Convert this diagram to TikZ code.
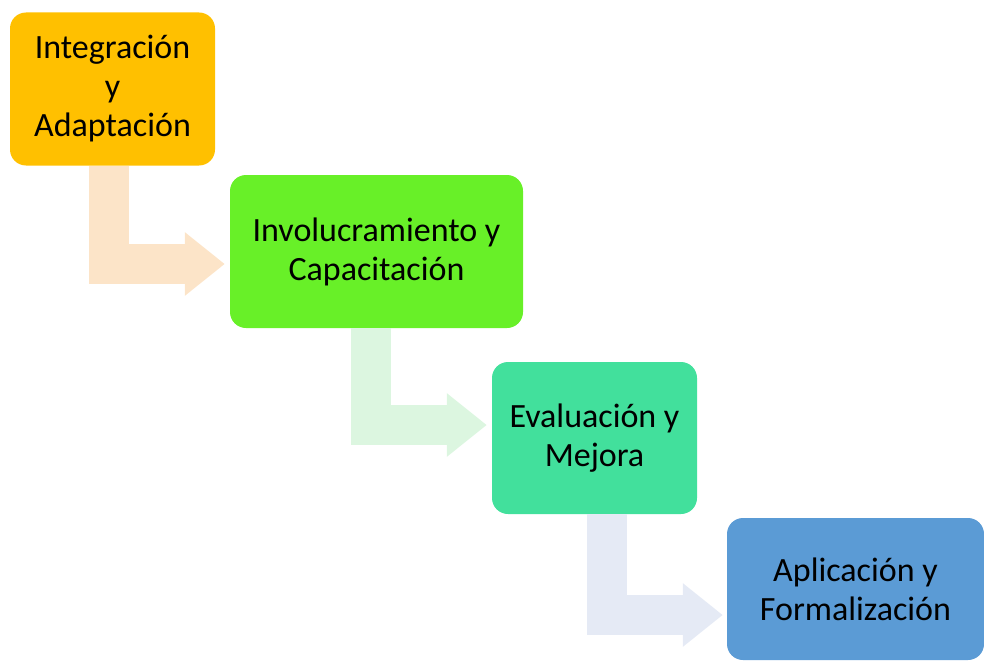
\documentclass[tikz,border=0pt]{standalone}
\usepackage{fontspec}
\setmainfont{Carlito}
\usetikzlibrary{arrows.meta}
\definecolor{goldbox}{RGB}{255,192,0}
\definecolor{limebox}{RGB}{104,240,40}
\definecolor{mintbox}{RGB}{66,224,156}
\definecolor{bluebox}{RGB}{91,155,213}
\definecolor{peachflow}{RGB}{252,228,200}
\definecolor{mintflow}{RGB}{220,246,224}
\definecolor{blueflow}{RGB}{229,234,245}
\tikzstyle{stage}=[rounded corners=16pt, minimum height=153pt, inner sep=0pt, align=center, font=\fontsize{34}{39}\selectfont]
\tikzstyle{flow}=[line width=40pt, -{Triangle[length=40pt, width=61pt]}]

\begin{document}
\begin{tikzpicture}[x=1pt, y=-1pt]
          \useasboundingbox (0, 0) rectangle (984, 666);

          \node[stage, fill=goldbox, minimum width=205pt] (integracion)
            at (112.5, 89) {Integración\\y\\Adaptación};
          \node[stage, fill=limebox, minimum width=293pt] (involucramiento)
            at (376.5, 251.5) {Involucramiento y\\Capacitación};
          \node[stage, fill=mintbox, minimum width=205pt, minimum height=152pt] (evaluacion)
            at (594.5, 438) {Evaluación y\\Mejora};
          \node[stage, fill=bluebox, minimum width=257pt, minimum height=142pt] (aplicacion)
            at (855.5, 589) {Aplicación y\\Formalización};

          \draw[flow, peachflow]
            ([xshift=-3.5pt]integracion.south)
            |- ([xshift=-5pt, yshift=-12.5pt]involucramiento.west);
          \draw[flow, mintflow]
            ([xshift=-5.5pt]involucramiento.south)
            |- ([xshift=-5pt, yshift=13pt]evaluacion.west);
          \draw[flow, blueflow]
            ([xshift=12.5pt]evaluacion.south)
            |- ([xshift=-4pt, yshift=-26pt]aplicacion.west);
        \end{tikzpicture}
\end{document}
